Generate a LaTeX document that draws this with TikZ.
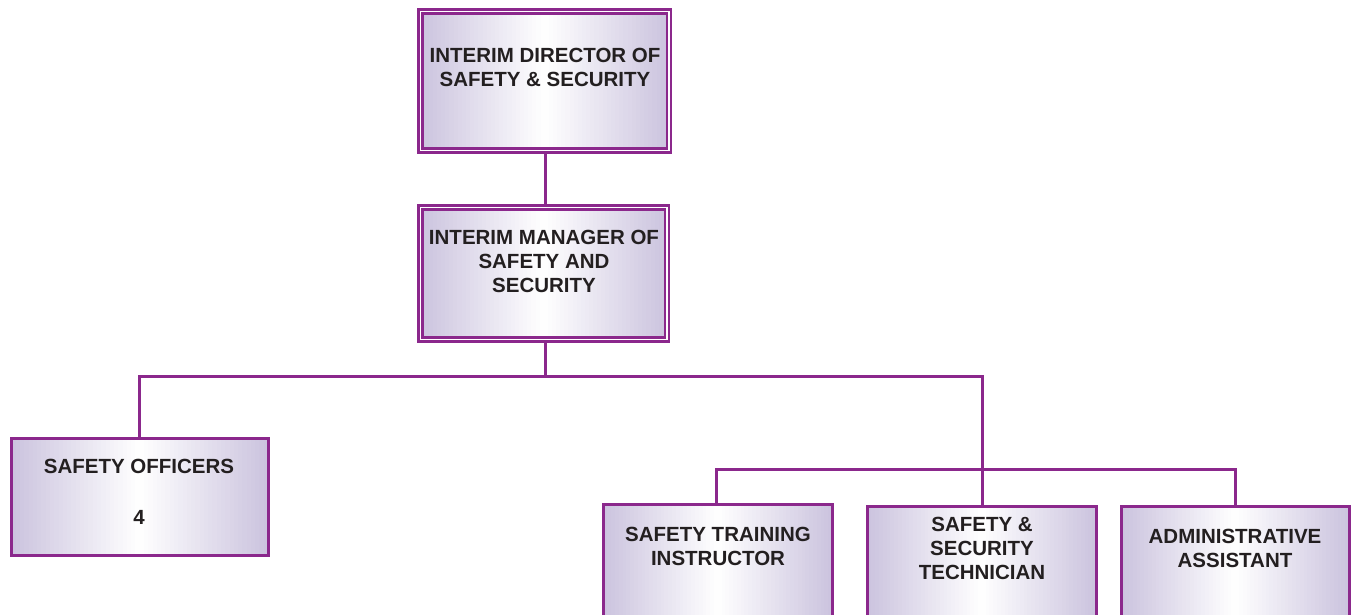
\documentclass[tikz,border=0pt]{standalone}
\usepackage{fontspec}
\usetikzlibrary{calc}
\setmainfont{Liberation Sans}
\definecolor{plum}{RGB}{139,40,140}
\definecolor{lav}{RGB}{203,195,222}
\definecolor{ink}{RGB}{35,31,32}
\tikzset{
  % lavender -> white -> lavender, built from thin vertical strips
  boxfill/.style={path picture={
      \foreach \i in {0,...,59} {
        \pgfmathsetmacro\ta{\i/60}
        \pgfmathsetmacro\tb{min(1,(\i+1.5)/60)}
        \pgfmathsetmacro\p{abs((\i+0.5)-30)/30*100}
        \fill[lav!\p!white]
          ($(path picture bounding box.south west)!\ta!(path picture bounding box.south east)$)
          rectangle
          ($(path picture bounding box.north west)!\tb!(path picture bounding box.north east)$);
      }
    }},
  unit/.style={draw=plum, line width=3pt, boxfill},
  headunit/.style={draw=plum, line width=2.4pt, double=white, double distance=1.8pt, boxfill},
  label text/.style={text=ink, align=center, inner sep=0pt, font=\fontsize{20.5}{24}\selectfont\bfseries},
  link/.style={draw=plum, line width=3pt}
}
\begin{document}
\begin{tikzpicture}[x=1pt,y=1pt]
  \useasboundingbox (0,0) rectangle (1356,615);
  \clip (0,0) rectangle (1356,615);

  % boxes
  \path[headunit] (420.5,464.5) rectangle (669,603.5);
  \path[headunit] (420.5,275.5) rectangle (667,407.5);
  \path[unit] (11.5,59) rectangle (268,176.5);
  \path[unit] (603.5,-25) rectangle (832,110.5);
  \path[unit] (867.5,-25) rectangle (1096,108.5);
  \path[unit] (1121.5,-25) rectangle (1349,108.5);

  % connector anchor points
  \coordinate (dirB) at (545,462);
  \coordinate (mgrT) at (545,409);
  \coordinate (mgrB) at (545,273);
  \coordinate (bus) at (545,238);
  \coordinate (offT) at (139,178);
  \coordinate (techT) at (982,110);
  \coordinate (sub) at (982,145);
  \coordinate (trnT) at (716,112);
  \coordinate (admT) at (1235,110);

  % connectors
  \draw[link] (dirB) -- (mgrT);
  \draw[link] (mgrB) -- (bus);
  \draw[link] (offT) |- (bus) -| (techT);
  \draw[link] (trnT) |- (sub) -| (admT);

  % labels
  \node[label text] (tDir) at (545,547.5) {INTERIM DIRECTOR OF\\SAFETY \& SECURITY};
  \node[label text] (tMgr) at (544,353.5) {INTERIM MANAGER OF\\SAFETY AND\\SECURITY};
  \node[label text] (tOff) at (139,123.5) {SAFETY OFFICERS\\[27pt]4};
  \node[label text] (tTrn) at (718,69) {SAFETY TRAINING\\INSTRUCTOR};
  \node[label text] (tTec) at (982,67) {SAFETY \&\\SECURITY\\TECHNICIAN};
  \node[label text] (tAdm) at (1235,67) {ADMINISTRATIVE\\ASSISTANT};
\end{tikzpicture}
\end{document}
